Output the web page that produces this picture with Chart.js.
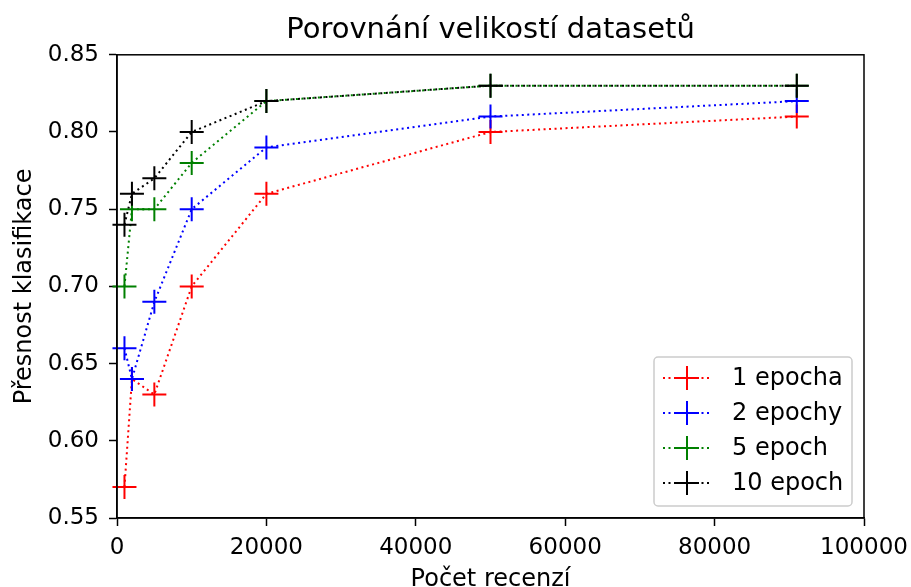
<!DOCTYPE html>
<html>
<head>
<meta charset="utf-8">
<script src="https://cdn.jsdelivr.net/npm/chart.js@4"></script>
<style>
  html, body { margin: 0; padding: 0; background: #fff; }
  #wrap { width: 911px; height: 587px; }
</style>
</head>
<body>
<div id="wrap"><canvas id="c" width="911" height="587"></canvas></div>
<script>
const xValues = [1000, 2000, 5000, 10000, 20000, 50000, 91000];
const epoch1 = [0.57, 0.64, 0.63, 0.70, 0.76, 0.80, 0.81];
const epoch2 = [0.66, 0.64, 0.69, 0.75, 0.79, 0.81, 0.82];
const epoch5 = [0.70, 0.75, 0.75, 0.78, 0.82, 0.83, 0.83];
const epoch10 = [0.74, 0.76, 0.77, 0.80, 0.82, 0.83, 0.83];
const seriesLabels = ['1 epocha', '2 epochy', '5 epoch', '10 epoch'];
const seriesColors = ['#ff0000', '#0000ff', '#008000', '#000000'];
const xTickValues = [0, 20000, 40000, 60000, 80000, 100000];
const yTickValues = [0.55, 0.60, 0.65, 0.70, 0.75, 0.80, 0.85];
const chartTitle = 'Porovnání velikostí datasetů';
const xTitle = 'Počet recenzí';
const yTitle = 'Přesnost klasifikace';

const FONT = "'DejaVu Sans', sans-serif";
const DASH = [2, 3.5];
const allSeries = [epoch1, epoch2, epoch5, epoch10];

const datasets = allSeries.map((vals, i) => ({
  label: seriesLabels[i],
  data: xValues.map((x, j) => ({ x: x, y: vals[j] })),
  showLine: true,
  borderColor: seriesColors[i],
  backgroundColor: seriesColors[i],
  borderWidth: 2,
  borderDash: DASH,
  pointStyle: 'cross',
  pointRadius: 12,
  pointHoverRadius: 12,
  pointBorderWidth: 2,
  pointBorderColor: seriesColors[i],
  order: 4 - i,
  clip: false,
  tension: 0
}));

const framePlugin = {
  id: 'frame',
  afterDatasetsDraw(chart) {
    const a = chart.chartArea;
    const ctx = chart.ctx;
    ctx.save();
    ctx.strokeStyle = '#000';
    ctx.lineWidth = 1.5;
    ctx.setLineDash([]);
    ctx.strokeRect(a.left, a.top, a.right - a.left, a.bottom - a.top);
    ctx.restore();
  },
  afterDraw(chart) {
    // legend box inside chart area, lower right
    const ctx = chart.ctx;
    const a = chart.chartArea;
    const boxW = 198, boxH = 149;
    const bx = a.right - 12 - boxW, by = a.bottom - 12 - boxH;
    ctx.save();
    ctx.globalAlpha = 0.8;
    ctx.fillStyle = '#fff';
    ctx.strokeStyle = '#cccccc';
    ctx.lineWidth = 1.5;
    ctx.beginPath();
    ctx.roundRect(bx, by, boxW, boxH, 4);
    ctx.fill();
    ctx.globalAlpha = 1;
    ctx.stroke();
    ctx.font = '24px ' + FONT;
    ctx.textBaseline = 'middle';
    ctx.textAlign = 'left';
    chart.data.datasets.forEach((ds, i) => {
      const cy = by + 21 + i * 35;
      ctx.strokeStyle = ds.borderColor;
      ctx.lineWidth = 2;
      ctx.setLineDash(DASH);
      ctx.beginPath();
      ctx.moveTo(bx + 9, cy);
      ctx.lineTo(bx + 56, cy);
      ctx.stroke();
      ctx.setLineDash([]);
      ctx.beginPath();
      ctx.moveTo(bx + 33 - 12, cy);
      ctx.lineTo(bx + 33 + 12, cy);
      ctx.moveTo(bx + 33, cy - 12);
      ctx.lineTo(bx + 33, cy + 12);
      ctx.stroke();
      ctx.fillStyle = '#000';
      ctx.fillText(ds.label, bx + 78, cy + 1);
    });
    ctx.restore();
  }
};

new Chart(document.getElementById('c'), {
  type: 'scatter',
  data: { datasets: datasets },
  options: {
    responsive: false,
    devicePixelRatio: 1,
    animation: false,
    events: [],
    layout: { padding: { top: 0, right: 47, bottom: 0, left: 0 } },
    plugins: {
      legend: { display: false },
      tooltip: { enabled: false },
      title: {
        display: true,
        text: chartTitle,
        fullSize: false,
        color: '#000',
        font: { family: FONT, size: 29, weight: 'normal', lineHeight: 1.2 },
        padding: { top: 13, bottom: 7 }
      }
    },
    scales: {
      x: {
        type: 'linear',
        min: 0,
        max: 100000,
        afterBuildTicks(scale) { scale.ticks = xTickValues.map(v => ({ value: v })); },
        afterFit(scale) { scale.height = 69; scale.paddingLeft = 0; scale.paddingRight = 0; },
        ticks: {
          color: '#000',
          font: { family: FONT, size: 23 },
          padding: 8,
          maxRotation: 0,
          callback: v => String(v)
        },
        grid: { display: true, drawOnChartArea: false, drawTicks: true, tickLength: 8, tickWidth: 1.5, tickColor: '#000', color: '#000' },
        border: { display: true, color: '#000', width: 1.5 },
        title: {
          display: true,
          text: xTitle,
          color: '#000',
          font: { family: FONT, size: 24, lineHeight: 1.2 },
          padding: { top: 0, bottom: -7 }
        }
      },
      y: {
        type: 'linear',
        min: 0.55,
        max: 0.85,
        afterBuildTicks(scale) { scale.ticks = yTickValues.map(v => ({ value: v })); },
        afterFit(scale) { scale.width = 117; scale.paddingTop = 0; scale.paddingBottom = 0; },
        ticks: {
          color: '#000',
          font: { family: FONT, size: 23 },
          padding: 10,
          callback: v => Number(v).toFixed(2)
        },
        grid: { display: true, drawOnChartArea: false, drawTicks: true, tickLength: 8, tickWidth: 1.5, tickColor: '#000', color: '#000' },
        border: { display: true, color: '#000', width: 1.5 },
        title: {
          display: true,
          text: yTitle,
          color: '#000',
          font: { family: FONT, size: 24, lineHeight: 1.2 },
          padding: { top: 10, bottom: 0 }
        }
      }
    }
  },
  plugins: [framePlugin]
});
</script>
</body>
</html>
